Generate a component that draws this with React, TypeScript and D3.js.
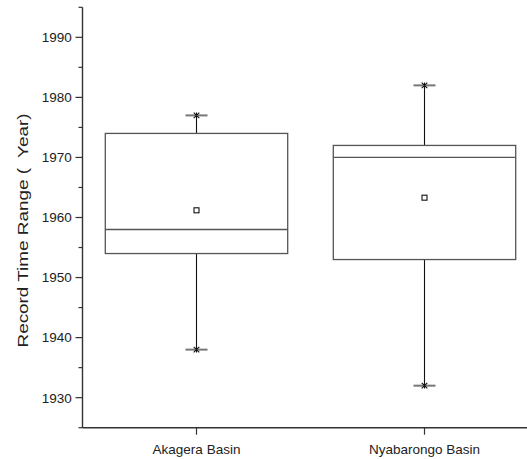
import React, { useEffect, useRef } from "react";
import * as d3 from "d3";

// data
const basins = ["Akagera Basin", "Nyabarongo Basin"];
const whiskerLow = [1938, 1932];
const q1 = [1954, 1953];
const median = [1958, 1970];
const q3 = [1974, 1972];
const whiskerHigh = [1977, 1982];
const mean = [1961.2, 1963.3];
const yMajorTicks = [1930, 1940, 1950, 1960, 1970, 1980, 1990];
const yMinorTicks = [1925, 1935, 1945, 1955, 1965, 1975, 1985, 1995];

const App = () => {
  const ref = useRef<SVGSVGElement | null>(null);

  useEffect(() => {
    const width = 527;
    const height = 459;
    const left = 82.5;
    const bottom = 427.7;
    const top = 7.3;

    const svg = d3.select(ref.current);
    svg.selectAll("*").remove();

    const y = d3.scaleLinear().domain([1925, 1995]).range([bottom, top]);
    const x = d3
      .scaleBand()
      .domain(basins)
      .range([left, 538.5])
      .paddingInner(0.2)
      .paddingOuter(0.1);
    const cx = (d: string) => (x(d) as number) + x.bandwidth() / 2;

    const font = "'Liberation Sans', Arial, sans-serif";
    const axisColor = "#333";

    const rows = basins.map((name, i) => ({
      name,
      lo: whiskerLow[i],
      q1: q1[i],
      med: median[i],
      q3: q3[i],
      hi: whiskerHigh[i],
      mean: mean[i],
    }));

    const g = svg.append("g");

    // whiskers
    rows.forEach((d) => {
      const c = cx(d.name);
      g.append("line")
        .attr("x1", c).attr("x2", c)
        .attr("y1", y(d.q3)).attr("y2", y(d.hi))
        .attr("stroke", "#111").attr("stroke-width", 1.1);
      g.append("line")
        .attr("x1", c).attr("x2", c)
        .attr("y1", y(d.q1)).attr("y2", y(d.lo))
        .attr("stroke", "#111").attr("stroke-width", 1.1);
      [d.lo, d.hi].forEach((v) => {
        g.append("line")
          .attr("x1", c - 11).attr("x2", c + 11)
          .attr("y1", y(v)).attr("y2", y(v))
          .attr("stroke", "#777").attr("stroke-width", 2);
        // asterisk marker
        const s = 2.8;
        g.append("path")
          .attr("transform", `translate(${c},${y(v)})`)
          .attr("d", `M${-s},${-s}L${s},${s}M${-s},${s}L${s},${-s}M0,${-s}L0,${s}`)
          .attr("stroke", "#111").attr("stroke-width", 1.1);
      });
    });

    // boxes
    g.selectAll("rect.box")
      .data(rows)
      .join("rect")
      .attr("class", "box")
      .attr("x", (d) => x(d.name) as number)
      .attr("width", x.bandwidth())
      .attr("y", (d) => y(d.q3))
      .attr("height", (d) => y(d.q1) - y(d.q3))
      .attr("fill", "white")
      .attr("stroke", "#555")
      .attr("stroke-width", 1.3);

    g.selectAll("line.median")
      .data(rows)
      .join("line")
      .attr("class", "median")
      .attr("x1", (d) => x(d.name) as number)
      .attr("x2", (d) => (x(d.name) as number) + x.bandwidth())
      .attr("y1", (d) => y(d.med))
      .attr("y2", (d) => y(d.med))
      .attr("stroke", "#555")
      .attr("stroke-width", 1.3);

    // mean markers
    g.selectAll("rect.mean")
      .data(rows)
      .join("rect")
      .attr("class", "mean")
      .attr("x", (d) => cx(d.name) - 2.5)
      .attr("y", (d) => y(d.mean) - 2.5)
      .attr("width", 5)
      .attr("height", 5)
      .attr("fill", "white")
      .attr("stroke", "#111")
      .attr("stroke-width", 1.1);

    // y axis
    const ax = svg.append("g");
    ax.append("line")
      .attr("x1", left).attr("x2", left)
      .attr("y1", top).attr("y2", bottom)
      .attr("stroke", axisColor).attr("stroke-width", 1.4);
    ax.selectAll("line.major")
      .data(yMajorTicks)
      .join("line")
      .attr("class", "major")
      .attr("x1", left - 7).attr("x2", left)
      .attr("y1", (d) => y(d)).attr("y2", (d) => y(d))
      .attr("stroke", axisColor).attr("stroke-width", 1.2);
    ax.selectAll("line.minor")
      .data(yMinorTicks)
      .join("line")
      .attr("class", "minor")
      .attr("x1", left - 4).attr("x2", left)
      .attr("y1", (d) => y(d)).attr("y2", (d) => y(d))
      .attr("stroke", axisColor).attr("stroke-width", 1.2);
    ax.selectAll("text.ylab")
      .data(yMajorTicks)
      .join("text")
      .attr("class", "ylab")
      .attr("x", 71.7)
      .attr("y", (d) => y(d))
      .attr("dy", "0.36em")
      .attr("text-anchor", "end")
      .attr("font-family", font)
      .attr("font-size", "13.5px")
      .attr("fill", "#222")
      .text((d) => d);

    // x axis
    ax.append("line")
      .attr("x1", left).attr("x2", width)
      .attr("y1", bottom).attr("y2", bottom)
      .attr("stroke", axisColor).attr("stroke-width", 1.4);
    ax.selectAll("line.xtick")
      .data(basins)
      .join("line")
      .attr("class", "xtick")
      .attr("x1", (d) => cx(d)).attr("x2", (d) => cx(d))
      .attr("y1", bottom).attr("y2", bottom + 7)
      .attr("stroke", axisColor).attr("stroke-width", 1.2);
    ax.selectAll("text.xlab")
      .data(basins)
      .join("text")
      .attr("class", "xlab")
      .attr("x", (d) => cx(d))
      .attr("y", 453.5)
      .attr("text-anchor", "middle")
      .attr("font-family", font)
      .attr("font-size", "13.5px")
      .attr("fill", "#222")
      .text((d) => d);

    // y title
    svg.append("text")
      .attr("transform", `translate(28,230.5) rotate(-90)`)
      .attr("text-anchor", "middle")
      .attr("font-family", font)
      .attr("font-size", "15px")
      .attr("fill", "#222")
      .attr("textLength", 234)
      .attr("lengthAdjust", "spacingAndGlyphs")
      .style("white-space", "pre")
      .text("Record Time Range (  Year)");

    svg.attr("width", width).attr("height", height);
  }, []);

  return (
    <svg
      ref={ref}
      width={527}
      height={459}
      style={{ position: "absolute", left: 0, top: 0, background: "white" }}
    />
  );
};

export default App;
